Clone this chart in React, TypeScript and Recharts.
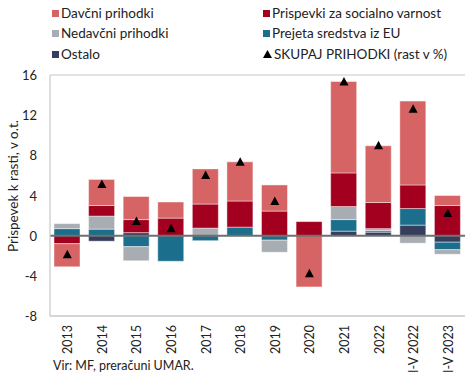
import {
  ComposedChart,
  Bar,
  Scatter,
  XAxis,
  YAxis,
  CartesianGrid,
  ReferenceLine,
} from "recharts";

// ─────────────────────────────────────────
// DATA
// ─────────────────────────────────────────

const categories = [
  "2013", "2014", "2015", "2016", "2017", "2018",
  "2019", "2020", "2021", "2022", "I-V 2022", "I-V 2023",
];

const davcni = [-2.3, 2.6, 2.3, 1.6, 3.5, 3.9, 2.6, -5.1, 9.1, 5.65, 8.35, 1.0];
const prispevki = [-0.8, 1.05, 1.3, 1.75, 2.4, 2.6, 2.45, 1.4, 3.35, 2.6, 2.35, 3.0];
const nedavcni = [0.5, 1.3, -1.4, 0, 0.75, 0, -1.2, 0, 1.3, 0.2, -0.75, -0.45];
const sredstvaEU = [0.7, 0.65, -1.1, -2.55, -0.5, 0.85, -0.45, 0, 1.15, 0.15, 1.65, -0.75];
const ostalo = [0, -0.55, 0.3, 0, 0, 0, 0, 0, 0.45, 0.35, 1.05, -0.65];
const skupaj = [-1.9, 5.1, 1.4, 0.7, 6.0, 7.3, 3.4, -3.8, 15.3, 8.95, 12.6, 2.2];

const yTicks = [-8, -4, 0, 4, 8, 12, 16];

const data = categories.map((name, i) => ({
  name,
  davcni: davcni[i],
  prispevki: prispevki[i],
  nedavcni: nedavcni[i],
  eu: sredstvaEU[i],
  ostalo: ostalo[i],
  skupaj: skupaj[i],
}));

// ─────────────────────────────────────────
// STYLES
// ─────────────────────────────────────────

const FONT = "Lato, 'Open Sans', sans-serif";
const TEXT = "#222";
const C_DAVCNI = "#d66464";
const C_PRISPEVKI = "#a3001f";
const C_NEDAVCNI = "#a8adb3";
const C_EU = "#1c6f8c";
const C_OSTALO = "#353e5c";

// ─────────────────────────────────────────
// HELPERS
// ─────────────────────────────────────────

const Triangle = (props: any) => {
  const { cx, cy } = props;
  if (cx == null || cy == null) return null;
  return (
    <polygon
      points={`${cx},${cy - 5} ${cx - 4.5},${cy + 3.5} ${cx + 4.5},${cy + 3.5}`}
      fill="#000"
    />
  );
};

// rotated category labels, top end aligned just under the axis
const XTick = ({ x, payload }: any) => (
  <text
    x={0}
    y={0}
    transform={`translate(${x + 5},${325}) rotate(-90)`}
    textAnchor="end"
    fontSize={12.5}
    fontFamily={FONT}
    fill={TEXT}
  >
    {payload.value}
  </text>
);

const YTick = ({ y, payload }: any) => (
  <text
    x={37}
    y={y + 5}
    textAnchor="end"
    fontSize={13}
    fontFamily={FONT}
    fill={TEXT}
  >
    {payload.value}
  </text>
);

const YLabel = () => (
  <text
    x={0}
    y={0}
    transform="translate(18,186) rotate(-90)"
    textAnchor="middle"
    fontSize={13.5}
    fontFamily={FONT}
    fill={TEXT}
  >
    Prispevek k rasti, v o.t.
  </text>
);

const legendItems = [
  { label: "Davčni prihodki", color: C_DAVCNI, x: 52, y: 13 },
  { label: "Prispevki za socialno varnost", color: C_PRISPEVKI, x: 263, y: 13 },
  { label: "Nedavčni prihodki", color: C_NEDAVCNI, x: 52, y: 33 },
  { label: "Prejeta sredstva iz EU", color: C_EU, x: 263, y: 33 },
  { label: "Ostalo", color: C_OSTALO, x: 52, y: 54 },
];

// ─────────────────────────────────────────
// COMPONENT
// ─────────────────────────────────────────

const App = () => {
  const barStroke = "rgba(255,255,255,0.55)";
  return (
    <div
      style={{
        position: "absolute",
        left: 0,
        top: 0,
        width: 475,
        height: 376,
        background: "#fff",
        fontFamily: FONT,
        color: TEXT,
      }}
    >
      {/* Legend */}
      {legendItems.map((it) => (
        <div
          key={it.label}
          style={{
            position: "absolute",
            left: it.x,
            top: it.y - 9,
            height: 18,
            display: "flex",
            alignItems: "center",
            fontSize: 13.5,
            whiteSpace: "nowrap",
          }}
        >
          <span
            style={{
              display: "inline-block",
              width: 7,
              height: 7,
              background: it.color,
              marginRight: 2,
            }}
          />
          {it.label}
        </div>
      ))}
      <div
        style={{
          position: "absolute",
          left: 263,
          top: 54 - 9,
          height: 18,
          display: "flex",
          alignItems: "center",
          fontSize: 13.5,
          whiteSpace: "nowrap",
        }}
      >
        <svg width={9} height={8} style={{ marginRight: 2 }}>
          <polygon points="4.5,0 0,8 9,8" fill="#000" />
        </svg>
        SKUPAJ PRIHODKI (rast v %)
      </div>

      <ComposedChart
        width={475}
        height={376}
        data={data}
        stackOffset="sign"
        barSize={26}
        margin={{ top: 75, right: 10, left: 0, bottom: 0 }}
      >
        <CartesianGrid vertical={false} stroke="#c8c8c8" strokeWidth={1.2} />
        <XAxis
          dataKey="name"
          interval={0}
          tickLine={false}
          axisLine={{ stroke: "#c8c8c8", strokeWidth: 1.2 }}
          tick={<XTick />}
          height={60}
        />
        <YAxis
          yAxisId="left"
          domain={[-8, 16]}
          ticks={yTicks}
          width={50}
          tickLine={false}
          axisLine={{ stroke: "#c8c8c8", strokeWidth: 1.2 }}
          tick={<YTick />}
          label={<YLabel />}
        />
        <YAxis
          yAxisId="right"
          orientation="right"
          domain={[-8, 16]}
          width={0}
          tick={false}
          tickLine={false}
          axisLine={{ stroke: "#c8c8c8", strokeWidth: 1.2 }}
        />

        {/* Stack order: closest to zero first */}
        <Bar yAxisId="left" dataKey="ostalo" stackId="a" fill={C_OSTALO} stroke={barStroke} strokeWidth={0.8} isAnimationActive={false} />
        <Bar yAxisId="left" dataKey="eu" stackId="a" fill={C_EU} stroke={barStroke} strokeWidth={0.8} isAnimationActive={false} />
        <Bar yAxisId="left" dataKey="nedavcni" stackId="a" fill={C_NEDAVCNI} stroke={barStroke} strokeWidth={0.8} isAnimationActive={false} />
        <Bar yAxisId="left" dataKey="prispevki" stackId="a" fill={C_PRISPEVKI} stroke={barStroke} strokeWidth={0.8} isAnimationActive={false} />
        <Bar yAxisId="left" dataKey="davcni" stackId="a" fill={C_DAVCNI} stroke={barStroke} strokeWidth={0.8} isAnimationActive={false} />

        <ReferenceLine yAxisId="left" y={0} stroke="#6f6f6f" strokeWidth={2} />

        <Scatter
          yAxisId="left"
          dataKey="skupaj"
          shape={<Triangle />}
          isAnimationActive={false}
        />
      </ComposedChart>

      {/* Source */}
      <div
        style={{
          position: "absolute",
          left: 53,
          top: 358,
          fontSize: 12.5,
          whiteSpace: "nowrap",
        }}
      >
        Vir: MF, preračuni UMAR.
      </div>
    </div>
  );
};

export default App;
